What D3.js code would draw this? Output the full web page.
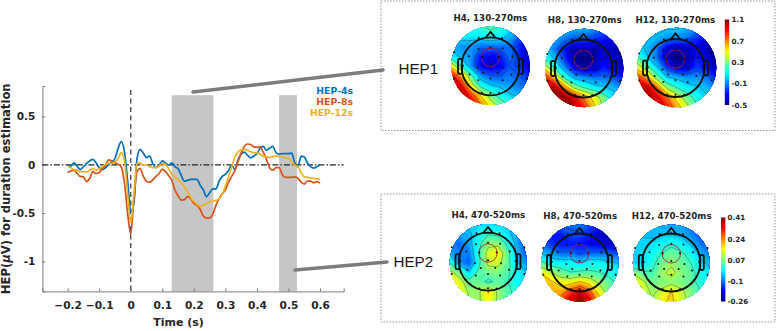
<!DOCTYPE html>
<html>
<head>
<meta charset="utf-8">
<script src="https://cdn.jsdelivr.net/npm/d3@7"></script>
<style>
  html, body { margin: 0; padding: 0; background: #fff; }
  svg { display: block; }
  text { font-family: "DejaVu Sans", sans-serif; font-weight: bold; fill: #262626; }
  .panel-label { font-family: "Liberation Sans", sans-serif; font-weight: normal; font-size: 15.2px; fill: #1a1a1a; }
  .axis path, .axis line { stroke: #7a7a7a; }
</style>
</head>
<body>
<svg id="chart" width="777" height="331"></svg>
<script>
// erp traces
const times = [-0.2,-0.19,-0.18,-0.17,-0.16,-0.15,-0.14,-0.13,-0.12,-0.11,-0.1,-0.09,-0.08,-0.07,-0.06,-0.05,-0.04,-0.03,-0.02,-0.01,
  0,0.01,0.02,0.03,0.04,0.05,0.06,0.07,0.08,0.09,0.1,0.11,0.12,0.13,0.14,0.15,0.16,0.17,0.18,0.19,
  0.2,0.21,0.22,0.23,0.24,0.25,0.26,0.27,0.28,0.29,0.3,0.31,0.32,0.33,0.34,0.35,0.36,0.37,0.38,0.39,
  0.4,0.41,0.42,0.43,0.44,0.45,0.46,0.47,0.48,0.49,0.5,0.51,0.52,0.53,0.54,0.55,0.56,0.57,0.58,0.59,0.6];
const hep4 = [0,-.015,.02,-.015,-.05,-.02,.015,.04,.055,.02,-.03,-.05,-.03,.005,.03,.065,.17,.24,.135,-.16,
  -.48,-.4,.065,.16,.12,.075,.09,.01,-.03,-.005,.04,.02,-.005,.02,-.02,-.04,-.11,-.17,-.16,-.15,
  -.15,-.15,-.21,-.26,-.33,-.29,-.25,-.25,-.17,-.12,-.1,-.06,0,-.05,.05,.11,.13,.1,.07,.09,
  .115,.17,.19,.15,.17,.19,.13,.11,.115,.115,.115,.12,.02,-.02,.09,.08,.02,-.02,-.035,-.02,0];
const hep8 = [-.08,-.065,-.055,-.09,-.12,-.125,-.175,-.14,-.07,-.09,-.08,-.04,-.005,.05,.04,.02,.005,-.02,-.19,-.5,
  -.72,-.35,-.07,-.04,-.12,-.17,-.18,-.155,-.12,-.09,-.045,-.07,-.11,-.16,-.26,-.32,-.365,-.36,-.33,-.35,
  -.4,-.42,-.46,-.53,-.55,-.55,-.51,-.42,-.35,-.3,-.26,-.18,-.12,-.06,.03,.12,.19,.215,.21,.185,
  .18,.186,.13,.06,-.03,-.055,-.03,-.03,-.1,-.13,-.13,-.13,-.125,-.14,-.18,-.2,-.17,-.17,-.185,-.175,-.19];
const hep12 = [-.015,-.03,-.05,-.055,-.07,-.07,-.075,-.055,-.04,-.055,-.04,-.02,.005,.015,.015,.03,.065,.125,.05,-.3,
  -.6,-.3,.015,.02,-.005,0,-.02,-.03,-.03,-.015,.015,.005,-.04,-.1,-.125,-.155,-.185,-.23,-.28,-.34,
  -.38,-.41,-.43,-.42,-.4,-.385,-.375,-.37,-.35,-.31,-.22,-.125,-.02,.08,.135,.155,.16,.15,.135,.125,
  .12,.11,.09,.085,.075,.085,.09,.085,.08,.075,.065,.03,-.005,-.02,-.08,-.125,-.13,-.135,-.14,-.145,-.15];
const seriesNames = ['HEP-4s', 'HEP-8s', 'HEP-12s'];
const seriesValues = [hep4, hep8, hep12];
const seriesColors = ['#0072bd', '#d95319', '#edb120'];
const xTicks = [-0.2, -0.1, 0, 0.1, 0.2, 0.3, 0.4, 0.5, 0.6];
const yTicks = [0.5, 0, -0.5, -1];
const shadedWindows = [[0.13, 0.262], [0.47, 0.527]];
const shadeTop = 0.72;

// scalp maps, 9x9 grids, rows top to bottom
const h4_130 = [
  .2,.2,.2,.2,.25,.2,.1,0,-.1,
  .1,.1,.1,.1,.15,.1,0,-.15,-.2,
  0,-.05,-.05,-.1,-.1,-.1,-.1,-.25,-.35,
  .1,0,-.05,-.25,-.3,-.25,-.1,-.25,-.4,
  .5,.2,-.05,-.3,-.35,-.3,-.15,-.2,-.35,
  .95,.65,.25,-.05,-.15,-.15,-.1,-.15,-.25,
  1.1,.95,.5,.15,.05,0,-.05,-.1,-.15,
  1.1,1.1,.85,.55,.3,.15,.05,0,-.05,
  1.1,1.1,1,.75,.5,.3,.2,.1,.05];
const h8_130 = [
  .1,.1,.05,0,0,-.05,-.1,-.2,-.3,
  0,0,-.1,-.15,-.15,-.2,-.25,-.3,-.35,
  .05,-.1,-.25,-.4,-.4,-.4,-.35,-.4,-.45,
  .2,0,-.2,-.45,-.5,-.45,-.3,-.35,-.45,
  .5,.2,-.05,-.3,-.4,-.35,-.25,-.3,-.4,
  .9,.6,.2,0,-.05,-.1,-.1,-.15,-.25,
  1.1,1.05,.7,.35,.2,.1,.05,0,-.1,
  1.1,1.1,1.1,.95,.7,.5,.3,.1,0,
  1.1,1.1,1.1,1.05,.85,.6,.35,.2,.1];
const h12_130 = [
  .1,.1,.1,.05,.05,0,-.05,-.15,-.25,
  .05,.05,0,-.05,-.05,-.1,-.2,-.3,-.4,
  .1,0,-.1,-.3,-.4,-.35,-.3,-.4,-.45,
  .25,.05,-.1,-.4,-.5,-.45,-.25,-.35,-.45,
  .5,.3,.05,-.2,-.35,-.35,-.2,-.25,-.4,
  .85,.65,.3,.05,0,-.05,-.05,-.1,-.25,
  1.1,1,.75,.35,.2,.1,.05,0,-.1,
  1.1,1.1,.95,.75,.5,.3,.15,.05,0,
  1.1,1.1,1.05,.9,.65,.45,.25,.15,.1];
const h4_470 = [
  -.02,-.02,-.02,-.03,-.02,-.02,-.03,-.06,-.08,
  -.05,-.06,-.05,0,.03,.02,-.02,-.07,-.1,
  -.08,-.1,-.06,.02,.09,.09,.02,-.06,-.12,
  -.05,-.09,-.09,.03,.14,.17,.06,-.05,-.12,
  .03,-.07,-.11,.02,.13,.14,.06,-.03,-.08,
  .14,.06,-.03,.05,.08,.08,.05,0,-.04,
  .18,.15,.06,.07,.02,.06,.04,0,-.02,
  .18,.18,.1,.1,.19,.1,.05,.02,0,
  .16,.16,.12,.1,.17,.1,.05,.03,.02];
const h8_470 = [
  -.1,-.1,-.1,-.1,-.08,-.12,-.15,-.2,-.2,
  -.12,-.15,-.15,-.12,-.12,-.15,-.2,-.22,-.22,
  -.1,-.14,-.16,-.16,-.16,-.17,-.18,-.2,-.22,
  -.04,-.07,-.1,-.1,-.12,-.1,-.1,-.1,-.12,
  .06,0,0,0,-.02,0,0,-.02,-.04,
  .18,.12,.07,.04,.05,.05,.04,.02,0,
  .22,.2,.16,.16,.2,.16,.1,.06,.02,
  .22,.22,.22,.3,.36,.28,.16,.08,.05,
  .22,.24,.3,.37,.41,.36,.22,.12,.08];
const h12_470 = [
  -.02,-.03,-.05,-.06,-.06,-.06,-.08,-.1,-.12,
  -.03,-.04,-.05,-.04,-.04,-.05,-.08,-.11,-.13,
  -.02,-.03,-.02,0,.02,0,-.04,-.09,-.12,
  -.03,-.02,0,.04,.07,.05,.01,-.05,-.09,
  -.03,-.03,.02,.07,.1,.07,.04,-.02,-.05,
  .1,.05,.04,.1,.13,.09,.06,.01,-.02,
  .2,.13,.07,.08,.09,.08,.06,.02,0,
  .2,.15,.1,.13,.19,.13,.08,.04,.02,
  .2,.16,.12,.17,.2,.15,.09,.05,.03];
const electrodes = [[-1.25,-.5],[1.25,-.5],[-1.25,.42],[1.25,.42],[-.4,-.98],[.4,-.98],
  [-.42,-.6],[.42,-.62],[0,-.65],[-.75,-.35],[.75,-.35],[-.3,-.32],[.3,-.32],[0,-.05],
  [-.95,-.02],[.95,-.02],[-.45,.05],[.45,.05],[-.72,.28],[.72,.28],[-.25,.22],[.25,.22],
  [-.42,.48],[.42,.48],[0,.42],[-.3,.92],[.3,.92],[0,.92],[-.78,.62],[.78,.62],[0,-1]];
const map130Ticks = [1.1, 0.7, 0.3, -0.1, -0.5];
const map470Ticks = [0.41, 0.24, 0.07, -0.1, -0.26];
const map130Domain = [-0.5, 1.1];
const map470Domain = [-0.26, 0.41];
const gridSize = 9;

const jetStops = ['#00007f', '#0000ff', '#007fff', '#00ffff', '#7fff7f', '#ffff00', '#ff7f00', '#ff0000', '#7f0000'];
const svg = d3.select('#chart');

// soft edge of the scalp images
svg.append('defs').append('filter')
    .attr('id', 'soft')
    .attr('x', '-10%').attr('y', '-10%').attr('width', '120%').attr('height', '120%')
  .append('feGaussianBlur')
    .attr('stdDeviation', 0.7);

const x = d3.scaleLinear().domain([-0.28, 0.675]).range([42.4, 343.7]);
const y = d3.scaleLinear().domain([-1.31, 0.815]).range([291.4, 86]);

svg.selectAll('rect.shade')
    .data(shadedWindows)
  .join('rect')
    .attr('class', 'shade')
    .attr('x', d => x(d[0]))
    .attr('y', y(shadeTop))
    .attr('width', d => x(d[1]) - x(d[0]))
    .attr('height', y.range()[0] - y(shadeTop))
    .attr('fill', '#c6c6c6');

const xAxis = svg.append('g')
    .attr('class', 'axis')
    .attr('transform', 'translate(0,' + y.range()[0] + ')')
    .call(d3.axisBottom(x).tickValues(xTicks).tickSize(-3).tickPadding(10).tickFormat(d => d === 0 ? '0' : d3.format('.1f')(d)));
const yAxis = svg.append('g')
    .attr('class', 'axis')
    .attr('transform', 'translate(' + x.range()[0] + ',0)')
    .call(d3.axisLeft(y).tickValues(yTicks).tickSize(-3).tickPadding(7).tickFormat(d => d));
xAxis.selectAll('text').style('font-size', '10.6px');
yAxis.selectAll('text').style('font-size', '10.5px');

// zero line and heartbeat marker
svg.append('line')
    .attr('x1', x.range()[0]).attr('x2', x.range()[1])
    .attr('y1', y(0)).attr('y2', y(0))
    .attr('stroke', '#222').attr('stroke-width', 1.2)
    .attr('stroke-dasharray', '6 2 1.5 2');
svg.append('line')
    .attr('x1', x(0)).attr('x2', x(0))
    .attr('y1', 90).attr('y2', y.range()[0])
    .attr('stroke', '#444').attr('stroke-width', 1.3)
    .attr('stroke-dasharray', '5 3.5');

const line = d3.line()
    .x(d => x(d[0]))
    .y(d => y(d[1]))
    .curve(d3.curveMonotoneX);
seriesValues.forEach((values, i) => {
  svg.append('path')
      .datum(values.map((v, j) => [times[j], v]))
      .attr('fill', 'none')
      .attr('stroke', seriesColors[i])
      .attr('stroke-width', 1.7)
      .attr('stroke-linejoin', 'round')
      .attr('d', line);
  svg.append('text')
      .attr('x', 353)
      .attr('y', 94 + i * 11.2)
      .attr('text-anchor', 'end')
      .style('font-size', '9.3px')
      .style('fill', seriesColors[i])
      .text(seriesNames[i]);
});

svg.append('text')
    .attr('x', 178.5)
    .attr('y', 326)
    .attr('text-anchor', 'middle')
    .style('font-size', '11px')
    .text('Time (s)');
svg.append('text')
    .attr('transform', 'translate(10,188.8) rotate(-90)')
    .attr('text-anchor', 'middle')
    .style('font-size', '11.6px')
    .html('HEP(<tspan font-style="italic">\u03bc</tspan>V) for duration estimation');

// callout bars
[[193, 92, 383, 70], [295, 270, 387, 262]].forEach(b => {
  svg.append('line')
      .attr('x1', b[0]).attr('y1', b[1]).attr('x2', b[2]).attr('y2', b[3])
      .attr('stroke', '#7c7c7c').attr('stroke-width', 3.4).attr('stroke-linecap', 'round');
});

// dashed panels
[[381, 1, 394, 129.5], [381, 194, 394, 128]].forEach(p => {
  svg.append('rect')
      .attr('x', p[0]).attr('y', p[1]).attr('width', p[2]).attr('height', p[3])
      .attr('fill', 'none').attr('stroke', '#777').attr('stroke-width', 0.8)
      .attr('stroke-dasharray', '1.5 1.5');
});
svg.append('text').attr('class', 'panel-label').attr('x', 398.5).attr('y', 73.5).text('HEP1');
svg.append('text').attr('class', 'panel-label').attr('x', 393.5).attr('y', 266.5).text('HEP2');

function drawMap(title, grid, domain, cx, cy, r, hx, hy, hr, ringY, titleX, titleY) {
  const jet = d3.scaleLinear()
      .domain(jetStops.map((c, i) => domain[0] + (domain[1] - domain[0]) * i / (jetStops.length - 1)))
      .range(jetStops)
      .clamp(true);
  const id = 'clip' + title.replace(/[^0-9A-Za-z]/g, '');
  svg.select('defs').append('clipPath').attr('id', id)
    .append('circle').attr('cx', cx).attr('cy', cy).attr('r', r);
  const thresholds = d3.range(48).map(i => domain[0] + (domain[1] - domain[0]) * i / 48);
  const contours = d3.contours().size([gridSize, gridSize]).thresholds(thresholds)(grid);
  const tx = d3.geoIdentity().scale(r / 4).translate([cx - r - 0.5 * r / 4, cy - r - 0.5 * r / 4]);
  const path = d3.geoPath(tx);

  const field = svg.append('g').attr('filter', 'url(#soft)').append('g').attr('clip-path', 'url(#' + id + ')');
  field.append('circle').attr('cx', cx).attr('cy', cy).attr('r', r).attr('fill', jet(domain[0]));
  field.selectAll('path.band')
      .data(contours)
    .join('path')
      .attr('class', 'band')
      .attr('d', path)
      .attr('fill', d => jet(d.value));
  const isoLevels = d3.range(1, 9).map(i => domain[0] + (domain[1] - domain[0]) * i / 9);
  const lines = d3.contours().size([gridSize, gridSize]).thresholds(isoLevels)(grid);
  field.selectAll('path.iso')
      .data(lines)
    .join('path')
      .attr('class', 'iso')
      .attr('d', path)
      .attr('fill', 'none')
      .attr('stroke', '#222')
      .attr('stroke-opacity', 0.7)
      .attr('stroke-width', 0.5);

  // head outline with nose and ears
  const head = svg.append('g')
      .attr('fill', 'none').attr('stroke', '#111').attr('stroke-width', 1.8);
  head.append('circle').attr('cx', hx).attr('cy', hy).attr('r', hr);
  head.append('path').attr('d', 'M' + (hx - 5) + ',' + (hy - hr + 0.5) + 'L' + hx + ',' + (hy - hr - 5.5) + 'L' + (hx + 5) + ',' + (hy - hr + 0.5));
  [-1, 1].forEach(s => {
    head.append('rect')
        .attr('x', hx + s * (hr + 1.5) - 2).attr('y', hy - 7.5)
        .attr('width', 4).attr('height', 15).attr('rx', 1.5);
  });
  svg.append('circle')
      .attr('cx', hx).attr('cy', hy + ringY * hr).attr('r', 9.2)
      .attr('fill', 'none').attr('stroke', '#a81c3c').attr('stroke-width', 0.9);
  svg.append('g').selectAll('circle')
      .data(electrodes)
    .join('circle')
      .attr('cx', d => hx + d[0] * hr)
      .attr('cy', d => hy + d[1] * hr)
      .attr('r', 1)
      .attr('fill', '#111');
  svg.append('text')
      .attr('x', titleX).attr('y', titleY)
      .attr('text-anchor', 'middle')
      .style('font-size', '8.7px')
      .text(title);
}

function drawColorbar(id, domain, ticks, bx, top, bottom, labelX) {
  const scale = d3.scaleLinear().domain(domain).range([bottom, top]);
  const grad = svg.select('defs').append('linearGradient')
      .attr('id', id).attr('x1', 0).attr('y1', 1).attr('x2', 0).attr('y2', 0);
  jetStops.forEach((c, i) => {
    grad.append('stop').attr('offset', i / (jetStops.length - 1)).attr('stop-color', c);
  });
  svg.append('rect')
      .attr('x', bx).attr('y', top).attr('width', 4.4).attr('height', bottom - top)
      .attr('fill', 'url(#' + id + ')');
  svg.selectAll('text.' + id)
      .data(ticks)
    .join('text')
      .attr('class', id)
      .attr('x', labelX)
      .attr('y', d => scale(d) + 2.7)
      .style('font-size', '7.2px')
      .text(d => d);
}

drawMap('H4, 130-270ms', h4_130, map130Domain, 490.5, 65.7, 39.3, 490.5, 66.4, 29, -0.31, 490.3, 20.7);
drawMap('H8, 130-270ms', h8_130, map130Domain, 584.3, 68, 39.2, 583.5, 68.5, 29, -0.31, 584.7, 22.7);
drawMap('H12, 130-270ms', h12_130, map130Domain, 676.7, 67.5, 39.7, 675.5, 68, 29, -0.31, 675.3, 23.2);
drawMap('H4, 470-520ms', h4_470, map470Domain, 488.3, 262.5, 38.6, 488, 261.7, 29, -0.3, 488.3, 218.3);
drawMap('H8, 470-520ms', h8_470, map470Domain, 580, 263, 38.6, 579.5, 262.5, 29, -0.3, 580.2, 219);
drawMap('H12, 470-520ms', h12_470, map470Domain, 671.3, 263, 38.4, 671.3, 262.5, 29, -0.3, 671.7, 219.3);

drawColorbar('bar130', map130Domain, map130Ticks, 724.8, 19.5, 105, 731.5);
drawColorbar('bar470', map470Domain, map470Ticks, 721, 217.5, 301.5, 727.5);
</script>
</body>
</html>
